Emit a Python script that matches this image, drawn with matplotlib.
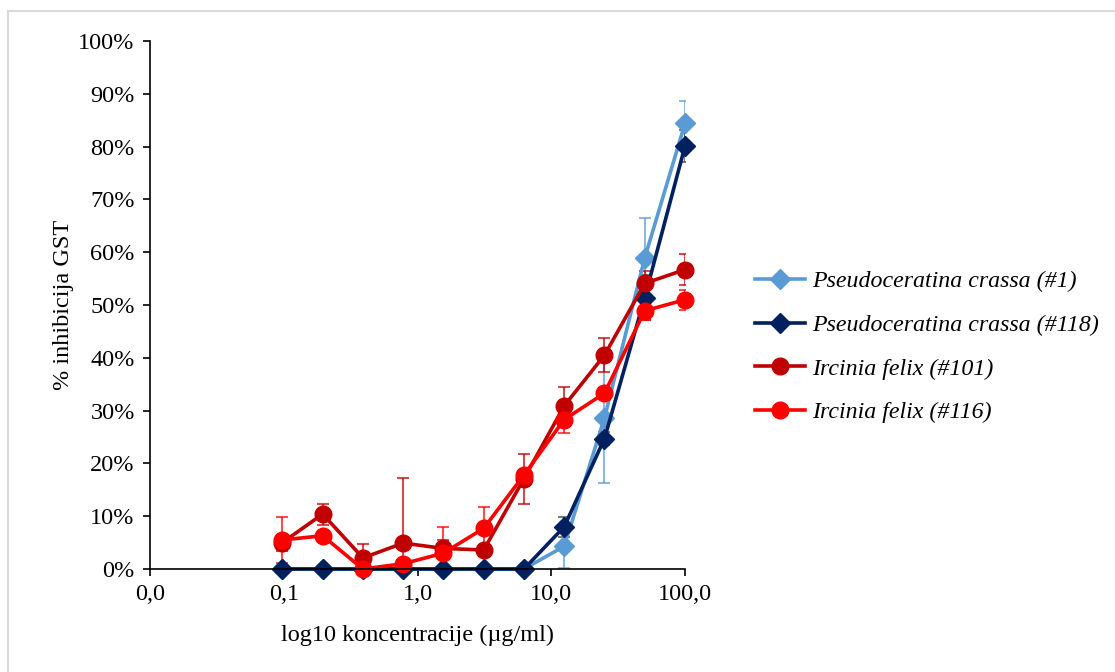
import numpy as np
import matplotlib
matplotlib.use('Agg')
import matplotlib.pyplot as plt
from matplotlib.patches import Rectangle

# =========== DATA =========================
conc = [0.09765625, 0.1953125, 0.390625, 0.78125, 1.5625, 3.125, 6.25, 12.5, 25, 50, 100]

pc1 = [0, 0, 0, 0, 0, 0, 0, 4.3, 28.6, 58.9, 84.4]
pc1_err = [0, 0, 0, 0, 0, 0, 0, 4.2, 12.3, 7.6, 4.2]

pc118 = [0, 0, 0, 0, 0, 0, 0, 8.0, 24.7, 51.4, 80.1]
pc118_err = [0, 0, 0, 0, 0, 0, 0, 1.9, 1.2, 4.3, 3.0]

if101 = [5.0, 10.4, 2.1, 4.9, 3.9, 3.6, 17.1, 30.9, 40.5, 54.1, 56.7]
if101_err = [1.5, 2.0, 2.6, 12.3, 1.6, 1.0, 4.7, 3.6, 3.2, 2.3, 3.0]

if116 = [5.5, 6.3, 0.0, 1.0, 3.0, 7.7, 17.8, 28.3, 33.3, 48.9, 51.0]
if116_err = [4.4, 0.5, 0.3, 0.5, 5.0, 4.0, 1.0, 2.6, 1.0, 1.7, 1.9]

labels = ['Pseudoceratina crassa (#1)', 'Pseudoceratina crassa (#118)',
          'Ircinia felix (#101)', 'Ircinia felix (#116)']

x_ticks = [0.01, 0.1, 1, 10, 100]
x_ticklabels = ['0,0', '0,1', '1,0', '10,0', '100,0']
y_ticks = list(range(0, 101, 10))

# =========== PLOT =========================
plt.rcParams['font.family'] = ['Liberation Serif', 'DejaVu Serif']
plt.rcParams['font.size'] = 17.5

fig = plt.figure(figsize=(11.15, 6.72), dpi=100)
ax = fig.add_axes([150/1115, 1-569/672, 535/1115, 528/672])

# light gray chart border (Excel style)
fig.patches.append(Rectangle((8/1115, -0.1), 1.2, 1-11/672+0.1, transform=fig.transFigure,
                             fill=False, edgecolor='#D9D9D9', linewidth=1.5))

series = [
    (pc1, pc1_err, '#5B9BD5', '#5B9BD5', 'D', 10),
    (pc118, pc118_err, '#002060', '#404040', 'D', 10),
    (if101, if101_err, '#C00000', '#C00000', 'o', 12),
    (if116, if116_err, '#FF0000', '#FF0000', 'o', 12),
]

for (vals, err, col, ecol, mk, ms), lab in zip(series, labels):
    ax.errorbar(conc, vals, yerr=err, fmt='none', ecolor=ecol, alpha=0.7,
                elinewidth=1.5, capsize=4, capthick=1.5)
for (vals, err, col, ecol, mk, ms), lab in zip(series, labels):
    ax.plot(conc, vals, color=col, marker=mk, markersize=ms, linewidth=2.6,
            label=lab, clip_on=False)

ax.set_xscale('log')
ax.set_xlim(0.01, 100)
ax.set_ylim(0, 100)
ax.set_xticks(x_ticks)
ax.set_xticklabels(x_ticklabels)
ax.xaxis.set_minor_locator(matplotlib.ticker.NullLocator())
ax.set_yticks(y_ticks)
ax.set_yticklabels([f'{t}%' for t in y_ticks])

for s in ['top', 'right']:
    ax.spines[s].set_visible(False)
for s in ['left', 'bottom']:
    ax.spines[s].set_linewidth(1.2)
ax.tick_params(length=5, width=1.2, pad=6)

ax.set_xlabel('log10 koncentracije (µg/ml)', labelpad=14)
ax.set_ylabel('% inhibicija GST', labelpad=3)

leg = ax.legend(loc='center left', bbox_to_anchor=(755/1115, 1-347/672),
                bbox_transform=fig.transFigure, frameon=False,
                prop={'style': 'italic', 'size': 17.2}, handlelength=2.1,
                handletextpad=0.3, labelspacing=0.92, borderpad=0,
                borderaxespad=0)

fig.savefig('out.png', dpi=100)
